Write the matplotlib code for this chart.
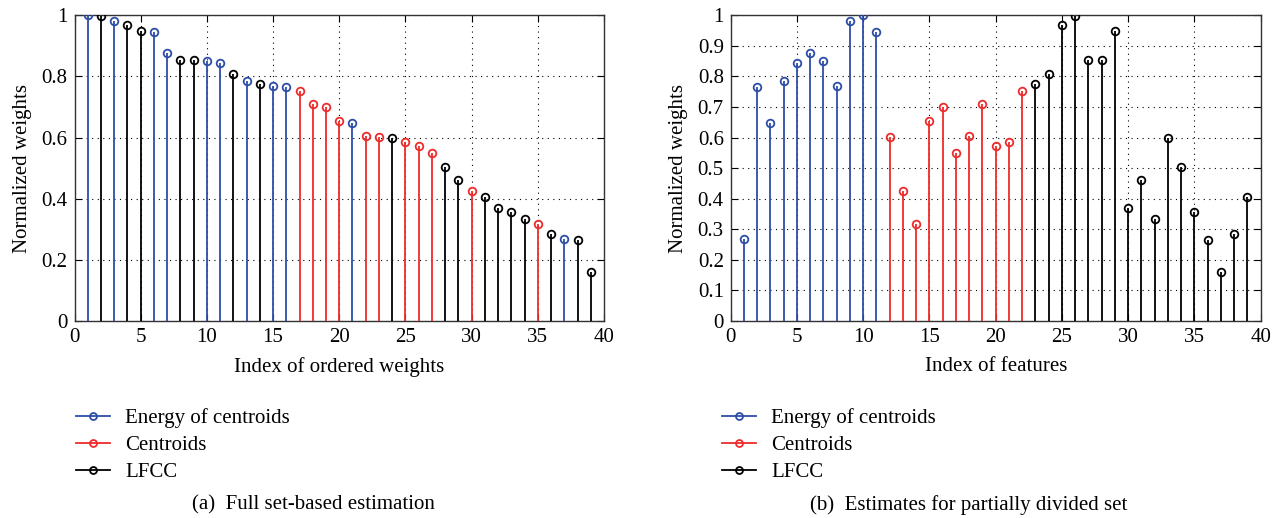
import numpy as np
import matplotlib
matplotlib.use("Agg")
import matplotlib.pyplot as plt
from matplotlib.lines import Line2D

# ---- data (feature index 1..39) ----
feature_index = list(range(1, 40))
energy_of_centroids = [0.268, 0.764, 0.647, 0.786, 0.843, 0.877, 0.849, 0.768, 0.981, 1.000, 0.944]
centroids = [0.603, 0.424, 0.316, 0.654, 0.699, 0.550, 0.606, 0.709, 0.571, 0.586, 0.753]
lfcc = [0.775, 0.809, 0.969, 0.997, 0.855, 0.855, 0.950, 0.371, 0.460, 0.333, 0.599,
        0.505, 0.355, 0.266, 0.161, 0.285, 0.406]
series_names = ["Energy of centroids", "Centroids", "LFCC"]
series_colors = ["#2d4ea6", "#ee2b2b", "#000000"]
captions = ["(a)  Full set-based estimation", "(b)  Estimates for partially divided set"]
xlabels = ["Index of ordered weights", "Index of features"]
ylabel = "Normalized weights"

values = np.array(energy_of_centroids + centroids + lfcc)
groups = np.array([0] * len(energy_of_centroids) + [1] * len(centroids) + [2] * len(lfcc))
x_feat = np.array(feature_index)

# ordered (descending, stable)
order = np.argsort(-values, kind="stable")
sorted_vals = values[order]
sorted_groups = groups[order]

FS = 15
plt.rcParams["font.family"] = ["Liberation Serif", "DejaVu Serif"]
plt.rcParams["font.size"] = FS

fig = plt.figure(figsize=(12.8, 5.18), dpi=100)
ax_a = fig.add_axes([74.5 / 1280, 1 - 321 / 518, 529.5 / 1280, 305.7 / 518])
ax_b = fig.add_axes([730.7 / 1280, 1 - 321 / 518, 530 / 1280, 305.7 / 518])


def draw(ax, xs, ys, gs, yticks, yticklabels, xlabel):
    for g in range(3):
        m = gs == g
        ax.vlines(xs[m], 0, ys[m], color=series_colors[g], lw=1.3, zorder=3)
        ax.plot(xs[m], ys[m], "o", mfc="none", mec=series_colors[g], ms=5.5, mew=1.3, zorder=4)
    ax.set_xlim(0, 40)
    ax.set_ylim(0, 1)
    ax.set_xticks(range(0, 41, 5))
    ax.set_yticks(yticks)
    ax.set_yticklabels(yticklabels)
    ax.grid(True, color="black", linestyle=(0, (1, 4)), linewidth=0.8, zorder=1)
    ax.set_axisbelow(True)
    ax.tick_params(direction="in", top=True, right=True, length=5, width=0.8,
                   labelsize=FS, pad=5)
    for s in ax.spines.values():
        s.set_linewidth(1.0)
        s.set_color("#333333")
    ax.set_xlabel(xlabel, fontsize=FS, labelpad=7)
    ax.set_ylabel(ylabel, fontsize=FS, labelpad=7)


ya = [0, 0.2, 0.4, 0.6, 0.8, 1.0]
draw(ax_a, x_feat, sorted_vals, sorted_groups, ya, ["0", "0.2", "0.4", "0.6", "0.8", "1"], xlabels[0])
yb = [i / 10 for i in range(11)]
draw(ax_b, x_feat, values, groups, yb, ["0"] + ["%.1f" % v for v in yb[1:-1]] + ["1"], xlabels[1])

handles = [Line2D([0], [0], color=c, lw=1.3, marker="o", mfc="none", mec=c, ms=5, mew=1.3)
           for c in series_colors]
for xl in (76 / 1280, 722 / 1280):
    fig.legend(handles, series_names, loc="upper left", bbox_to_anchor=(xl, 1 - 408 / 518),
               frameon=False, fontsize=FS, handlelength=1.65, handletextpad=0.7,
               labelspacing=0.36, borderaxespad=0, borderpad=0)

fig.text(313 / 1280, 1 - 505 / 518, captions[0], ha="center", va="center", fontsize=FS)
fig.text(969 / 1280, 1 - 505 / 518, captions[1], ha="center", va="center", fontsize=FS)

fig.savefig("out.png", dpi=100)
